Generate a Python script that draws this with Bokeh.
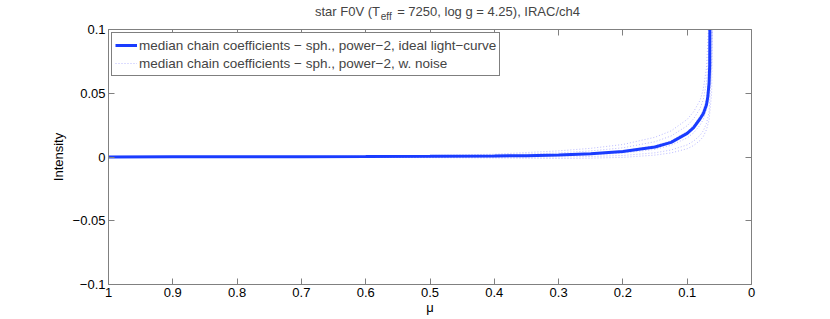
from bokeh.plotting import figure
from bokeh.layouts import column
from bokeh.models import Range1d, LinearAxis, FixedTicker, Legend, LegendItem, Label
from bokeh.embed import file_html
from bokeh.resources import INLINE

# ---- data ----
mu_ideal = [1.0, 0.9, 0.8, 0.7, 0.6, 0.5, 0.4, 0.35, 0.3, 0.25, 0.2, 0.15, 0.125,
            0.1, 0.09, 0.08, 0.075, 0.07, 0.068, 0.066, 0.065, 0.0645]
I_ideal = [0.0, 0.0001, 0.0001, 0.0002, 0.0003, 0.0005, 0.0008, 0.001, 0.0016, 0.0026,
           0.0043, 0.0078, 0.0115, 0.0185, 0.023, 0.030, 0.034, 0.041, 0.047, 0.058,
           0.072, 0.12]

mu_noise = [1.0, 0.8, 0.6, 0.5, 0.4, 0.3, 0.25, 0.2, 0.15, 0.125, 0.1, 0.09, 0.08,
            0.075, 0.07, 0.066, 0.062, 0.058, 0.055]
noise_1 = [0.0, 0.0002, 0.0006, 0.0012, 0.0022, 0.0048, 0.0068, 0.0098, 0.0155, 0.0205,
           0.0295, 0.0355, 0.0445, 0.0530, 0.0700, 0.1100, 0.2, 0.2, 0.2]
noise_2 = [0.0, 0.0001, 0.0004, 0.0008, 0.0015, 0.0032, 0.0048, 0.0072, 0.0120, 0.0165,
           0.0245, 0.0300, 0.0380, 0.0450, 0.0580, 0.0850, 0.2, 0.2, 0.2]
noise_3 = [0.0, 0.0001, 0.0002, 0.0004, 0.0008, 0.0019, 0.0030, 0.0048, 0.0088, 0.0128,
           0.0200, 0.0250, 0.0320, 0.0370, 0.0460, 0.0620, 0.1100, 0.2, 0.2]
noise_4 = [0.0, 0.0, 0.0001, 0.0002, 0.0004, 0.0010, 0.0017, 0.0030, 0.0060, 0.0092,
           0.0150, 0.0190, 0.0250, 0.0295, 0.0370, 0.0480, 0.0750, 0.2, 0.2]
noise_5 = [0.0, -0.0001, -0.0002, -0.0002, -0.0002, 0.0, 0.0004, 0.0012, 0.0033, 0.0055,
           0.0095, 0.0125, 0.0170, 0.0205, 0.0265, 0.0350, 0.0700, 0.2, 0.2]
noise_6 = [0.0, -0.0001, -0.0003, -0.0005, -0.0008, -0.0012, -0.0009, -0.0003, 0.0015,
           0.0032, 0.0065, 0.0090, 0.0130, 0.0160, 0.0215, 0.0290, 0.0500, 0.2, 0.2]
noise_series = [noise_1, noise_2, noise_3, noise_4, noise_5, noise_6]

x_ticks = [1.0, 0.9, 0.8, 0.7, 0.6, 0.5, 0.4, 0.3, 0.2, 0.1, 0.0]
x_tick_labels = ["1", "0.9", "0.8", "0.7", "0.6", "0.5", "0.4", "0.3", "0.2", "0.1", "0"]
y_ticks = [-0.1, -0.05, 0.0, 0.05, 0.1]
y_tick_labels = ["\u22120.1", "\u22120.05", "0", "0.05", "0.1"]

legend_labels = ["median chain coefficients \u2212 sph., power\u22122, ideal light\u2212curve",
                 "median chain coefficients \u2212 sph., power\u22122, w. noise"]
title_parts = ["star F0V (T", "eff", "= 7250, log g = 4.25), IRAC/ch4"]
x_label = "\u03bc"
y_label = "Intensity"

FONT = "Liberation Sans"
AX = "#808080"
BLUE = "#1a3cff"
LIGHT = "#7f7fff"
W = 822
TH = 21

# ---- title strip (subscripted title drawn as text labels) ----
t = figure(width=W, height=TH, output_backend="svg", toolbar_location=None,
           x_range=Range1d(0, W), y_range=Range1d(0, TH),
           x_axis_type=None, y_axis_type=None,
           min_border_left=0, min_border_right=0, min_border_top=0, min_border_bottom=0)
t.grid.visible = False
t.outline_line_color = None
t.add_layout(Label(x=347, y=10, text=title_parts[0], text_align="right",
                   text_baseline="alphabetic", text_font=FONT, text_font_size="13px"))
t.add_layout(Label(x=348, y=5.5, text=title_parts[1], text_align="left",
                   text_baseline="alphabetic", text_font=FONT, text_font_size="10px"))
t.add_layout(Label(x=369, y=10, text=title_parts[2], text_align="left",
                   text_baseline="alphabetic", text_font=FONT, text_font_size="13px"))

# ---- main plot ----
p = figure(width=W, height=296, output_backend="svg", toolbar_location=None,
           x_range=Range1d(1, 0), y_range=Range1d(-0.1, 0.1),
           min_border_left=108, min_border_right=71, min_border_top=8, min_border_bottom=33)
p.grid.visible = False
p.outline_line_color = None

noise_renderers = []
for ns in noise_series:
    r = p.line(mu_noise, ns, line_color=LIGHT, line_alpha=0.55, line_width=1, line_dash="1 2")
    noise_renderers.append(r)
r_ideal = p.line(mu_ideal, I_ideal, line_color=BLUE, line_width=3)

def style_axis(ax, ticks, labels, show_labels):
    ax.ticker = FixedTicker(ticks=ticks)
    ax.major_label_overrides = {tk: lb for tk, lb in zip(ticks, labels)}
    ax.axis_line_color = AX
    ax.major_tick_line_color = AX
    ax.major_tick_in = 6
    ax.major_tick_out = 0
    ax.minor_tick_line_color = None
    ax.major_label_text_font = FONT
    ax.major_label_text_font_size = "13px"
    ax.major_label_text_color = "black"
    ax.major_label_standoff = 3
    ax.axis_label_text_font = FONT
    ax.axis_label_text_font_size = "13px"
    ax.axis_label_text_font_style = "normal"
    ax.axis_label_text_color = "black"
    if not show_labels:
        ax.major_label_text_alpha = 0
        ax.major_label_text_font_size = "0px"
        ax.major_label_standoff = 0

style_axis(p.xaxis[0], x_ticks, x_tick_labels, True)
style_axis(p.yaxis[0], y_ticks, y_tick_labels, True)
p.xaxis[0].axis_label = x_label
p.xaxis[0].axis_label_standoff = 0
p.yaxis[0].axis_label = y_label
p.yaxis[0].axis_label_standoff = 4
top_ax = LinearAxis()
right_ax = LinearAxis()
p.add_layout(top_ax, "above")
p.add_layout(right_ax, "right")
style_axis(top_ax, x_ticks, x_tick_labels, False)
style_axis(right_ax, y_ticks, y_tick_labels, False)

legend = Legend(items=[LegendItem(label=legend_labels[0], renderers=[r_ideal]),
                       LegendItem(label=legend_labels[1], renderers=[noise_renderers[0]])],
                location="top_left")
legend.margin = 3
legend.padding = 3
legend.spacing = 0
legend.glyph_width = 22
legend.glyph_height = 18
legend.label_height = 18
legend.label_standoff = 2
legend.label_text_font = FONT
legend.label_text_font_size = "13.5px"
legend.border_line_color = "black"
legend.border_line_width = 1
legend.background_fill_color = "white"
legend.background_fill_alpha = 1
p.add_layout(legend)

layout = column(t, p, spacing=0)
open("out.html", "w").write(file_html(layout, INLINE))
